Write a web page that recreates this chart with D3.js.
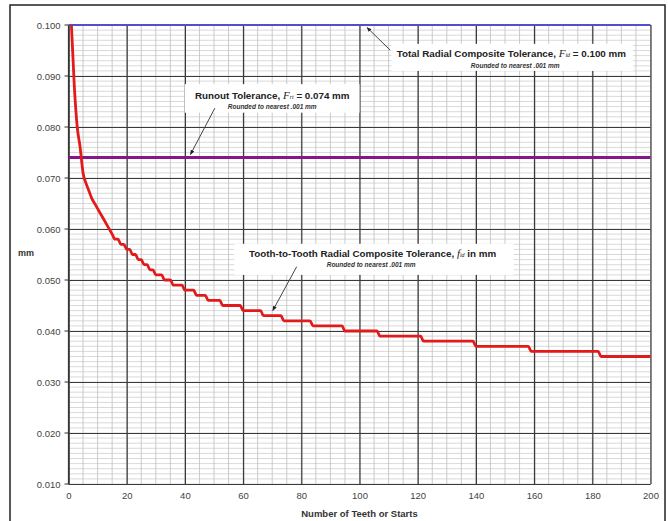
<!DOCTYPE html>
<html><head><meta charset="utf-8">
<script src="https://cdn.jsdelivr.net/npm/d3@7"></script>
<style>
html,body{margin:0;padding:0;background:#fff;}
svg text{font-family:Arial,"Liberation Sans",sans-serif;}
</style></head>
<body>
<svg id="c" width="668" height="521"></svg>
<script>
// ---- data ----
const xTicks = [0,20,40,60,80,100,120,140,160,180,200];
const yTicks = [0.010,0.020,0.030,0.040,0.050,0.060,0.070,0.080,0.090,0.100];
const yTickLabels = ["0.010","0.020","0.030","0.040","0.050","0.060","0.070","0.080","0.090","0.100"];
const totalRadialTol = 0.100;   // F_id
const runoutTol = 0.074;        // F_rt
// tooth-to-tooth tolerance f_id: number of teeth where each value begins
const teethStart = [1,2,3,4,5,6,7,8,9,10,11,12,13,14,15,16,18,20,22,24,26,28,30,33,36,40,44,48,53,60,67,74,84,95,107,122,140,159,183];
const toothTol   = [0.100,0.088,0.080,0.076,0.071,0.069,0.0675,0.066,0.065,0.064,0.063,0.062,0.061,0.060,0.059,0.058,0.057,0.056,0.055,0.054,0.053,0.052,0.051,0.050,0.049,0.048,0.047,0.046,0.045,0.044,0.043,0.042,0.041,0.040,0.039,0.038,0.037,0.036,0.035];
const teethMax = 200;

const svg = d3.select("#c");
const x = d3.scaleLinear().domain([0,200]).range([68.5,650.5]);
const y = d3.scaleLinear().domain([0.010,0.100]).range([484,25]);

// outer frame
svg.append("rect").attr("x",10).attr("y",5).attr("width",655).attr("height",520)
  .attr("fill","#fff").attr("stroke","#222").attr("stroke-width",1.5);

const g = svg.append("g");
// minor horizontal grid every 0.001
const minorY = d3.range(10,101).map(d=>d/1000);
g.selectAll(".mh").data(minorY).join("line")
  .attr("x1",x(0)).attr("x2",x(200)).attr("y1",d=>y(d)).attr("y2",d=>y(d))
  .attr("stroke","#cfcfcf").attr("stroke-width",0.8);
// minor vertical grid every 5
const minorX = d3.range(0,201,5);
g.selectAll(".mv").data(minorX).join("line")
  .attr("y1",y(0.010)).attr("y2",y(0.100)).attr("x1",d=>x(d)).attr("x2",d=>x(d))
  .attr("stroke","#c4c4c4").attr("stroke-width",0.9);

// major grid via axes
const yAxis = d3.axisLeft(y).tickValues(yTicks).tickFormat((d,i)=>yTickLabels[i]).tickSize(-(x(200)-x(0))).tickPadding(8);
const ya = g.append("g").attr("transform",`translate(${x(0)},0)`).call(yAxis);
ya.select(".domain").attr("stroke","#333");
ya.selectAll(".tick line").attr("stroke","#3a3a3a").attr("stroke-width",1.2);
ya.selectAll(".tick text").attr("fill","#444").attr("font-size",9.5).attr("font-family","Arial, 'Liberation Sans', sans-serif");
g.selectAll(".yt").data(yTicks).join("line").attr("x1",x(0)-4).attr("x2",x(0)).attr("y1",d=>y(d)).attr("y2",d=>y(d)).attr("stroke","#333");

const xa = g.append("g").attr("transform",`translate(0,${y(0.010)})`)
  .call(d3.axisBottom(x).tickValues(xTicks).tickFormat(d3.format("d")).tickSize(-(y(0.010)-y(0.100))).tickPadding(8));
xa.select(".domain").remove();
xa.selectAll(".tick line").attr("stroke","#3a3a3a").attr("stroke-width",1.2);
xa.selectAll(".tick text").attr("fill","#444").attr("font-size",9.5).attr("font-family","Arial, 'Liberation Sans', sans-serif");
g.append("line").attr("x1",x(0)).attr("x2",x(0)).attr("y1",y(0.010)).attr("y2",y(0.100)).attr("stroke","#333").attr("stroke-width",1.2);

// axis titles
svg.append("text").attr("x",(x(0)+x(200))/2).attr("y",517).attr("text-anchor","middle")
  .attr("font-size",9.5).attr("font-weight","bold").attr("fill","#333").text("Number of Teeth or Starts");
svg.append("text").attr("x",26).attr("y",256).attr("text-anchor","middle")
  .attr("font-size",9).attr("font-weight","bold").attr("fill","#333").text("mm");

// annotation boxes (white)
function box(n0,v0,n1,v1){
  svg.append("rect").attr("x",x(n0)).attr("y",y(v0)).attr("width",x(n1)-x(n0)).attr("height",y(v1)-y(v0)).attr("fill","#fff");
}
box(111,0.0963,194,0.0910);
box(40,0.0884,100,0.0828);
box(57,0.0571,153,0.0510);

// tolerance lines
svg.append("line").attr("x1",x(0)).attr("x2",x(200)).attr("y1",y(totalRadialTol)).attr("y2",y(totalRadialTol))
  .attr("stroke","#5050cc").attr("stroke-width",2);
svg.append("line").attr("x1",x(0)).attr("x2",x(200)).attr("y1",y(runoutTol)).attr("y2",y(runoutTol))
  .attr("stroke","#86168a").attr("stroke-width",3);

// tooth-to-tooth curve
const pts = [];
teethStart.forEach((n,i)=>{
  pts.push([n,toothTol[i]]);
  const next = i<teethStart.length-1 ? teethStart[i+1]-1 : teethMax;
  if(next>n) pts.push([next,toothTol[i]]);
});
svg.append("path").datum(pts).attr("fill","none").attr("stroke","#e31a1a").attr("stroke-width",2.8)
  .attr("stroke-linejoin","round")
  .attr("d",d3.line().curve(d3.curveMonotoneX).x(d=>x(d[0])).y(d=>y(d[1])));

// arrows
const defs = svg.append("defs");
defs.append("marker").attr("id","ah").attr("viewBox","0 0 10 10").attr("refX",9).attr("refY",5)
  .attr("markerWidth",5).attr("markerHeight",5).attr("orient","auto")
  .append("path").attr("d","M0,1 L10,5 L0,9 Z").attr("fill","#222");
function arrow(n0,v0,n1,v1){
  svg.append("line").attr("x1",x(n0)).attr("y1",y(v0)).attr("x2",x(n1)).attr("y2",y(v1))
    .attr("stroke","#444").attr("stroke-width",1).attr("marker-end","url(#ah)");
}
arrow(110.5,0.0951,102.6,0.0995);
arrow(50.3,0.0837,41.9,0.0746);
arrow(78.4,0.0526,70.2,0.0440);

// labels
function label(n,v,parts){
  const t = svg.append("text").attr("x",x(n)).attr("y",y(v)).attr("text-anchor","middle")
    .attr("dominant-baseline","central").attr("font-size",9.8).attr("font-weight","bold").attr("fill","#222");
  parts.forEach(p=>{
    const s = t.append("tspan").text(p.t);
    if(p.it){ s.attr("font-family","'Liberation Serif','Times New Roman',serif").attr("font-style","italic").attr("font-weight","normal").attr("font-size",11); }
    if(p.sub){ s.attr("font-size",6).attr("baseline-shift","-25%").attr("font-family","'Liberation Serif',serif").attr("font-style","italic").attr("font-weight","normal"); }
  });
}
function sublabel(n,v,txt){
  svg.append("text").attr("x",x(n)).attr("y",y(v)).attr("text-anchor","middle").attr("dominant-baseline","central")
    .attr("font-size",6.5).attr("font-weight","bold").attr("font-style","italic").attr("fill","#333").text(txt);
}
label(152.2,0.0945,[{t:"Total Radial Composite Tolerance,  "},{t:"F",it:true},{t:"id",sub:true},{t:" = 0.100 mm"}]);
sublabel(153.5,0.0920,"Rounded to nearest .001 mm");
label(70,0.0863,[{t:"Runout Tolerance,  "},{t:"F",it:true},{t:"rt",sub:true},{t:" = 0.074 mm"}]);
sublabel(70,0.0841,"Rounded to nearest .001 mm");
label(104.5,0.0553,[{t:"Tooth-to-Tooth Radial Composite Tolerance,  "},{t:"f",it:true},{t:"id",sub:true},{t:"  in mm"}]);
sublabel(104,0.0531,"Rounded to nearest .001 mm");
</script>
</body></html>
